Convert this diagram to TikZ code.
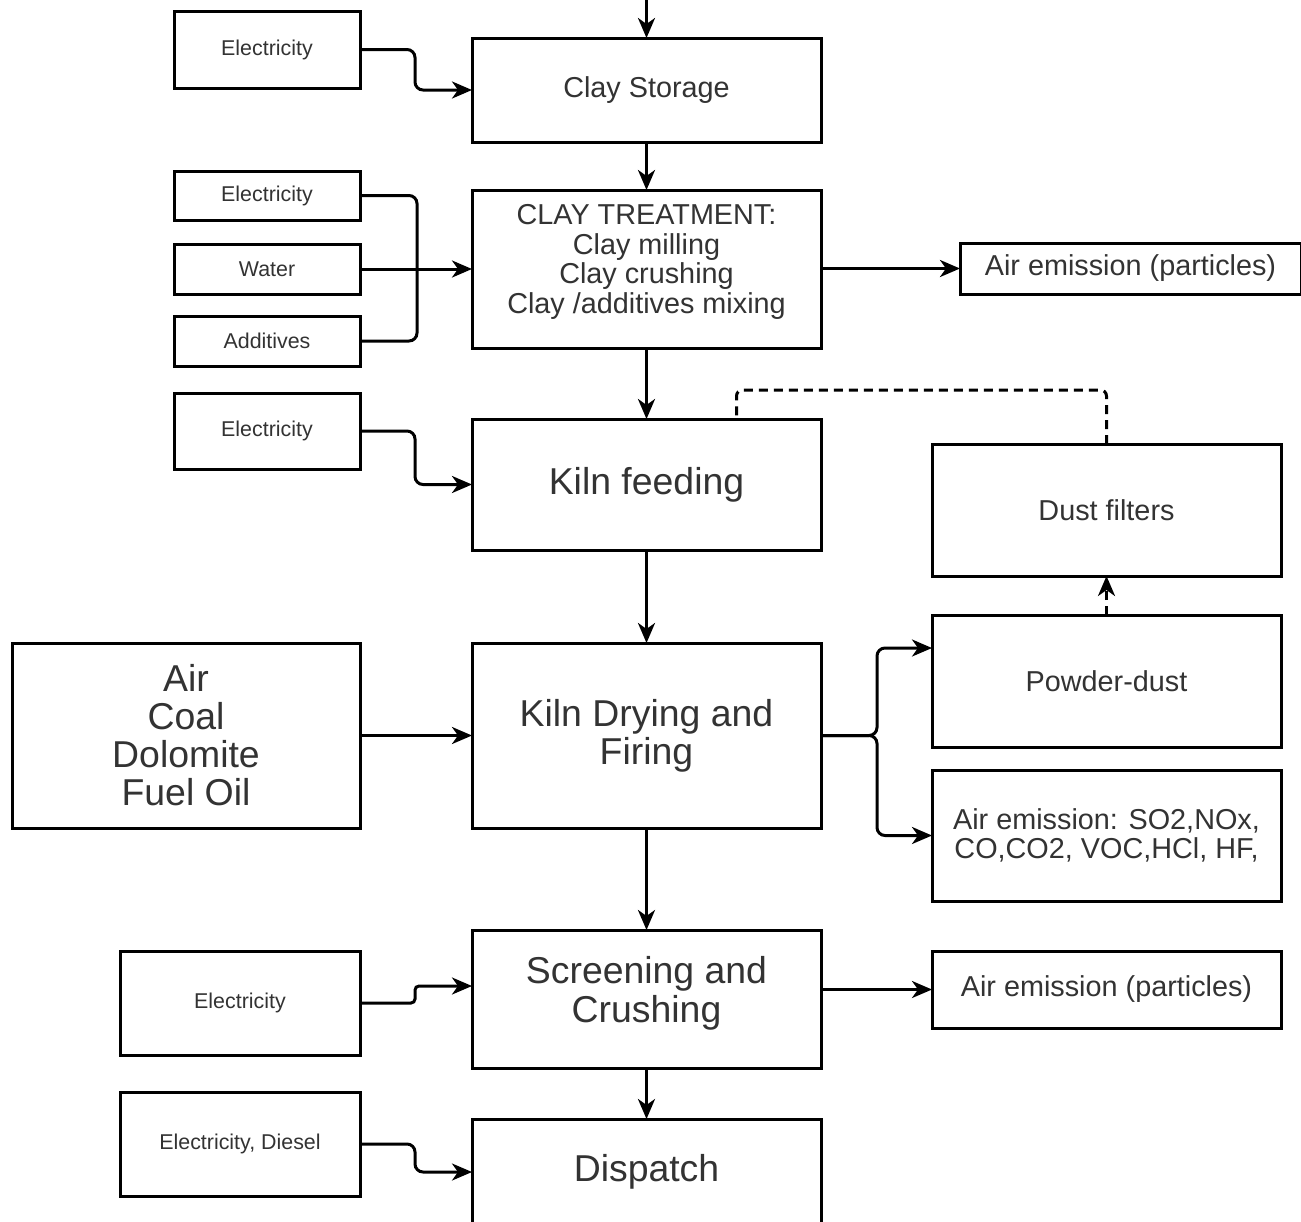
\documentclass[tikz,border=0pt]{standalone}
\usepackage{fontspec}
\setmainfont{Liberation Sans}
\usetikzlibrary{arrows.meta, positioning}
\definecolor{inktext}{HTML}{333333}
% lifts a block of lines without changing the box size
\newcommand{\liftlines}[2]{\raisebox{#1}[\height][\depth]{\begin{tabular}{@{}c@{}}#2\end{tabular}}}

\begin{document}
\begin{tikzpicture}[
        x=0.5pt, y=-0.5pt,
        % This defines the style of the boxes
        box/.style={rectangle, draw=black, line width=1.5pt, fill=white, text=inktext, align=center, inner sep=2pt, outer sep=0pt},
        mainbox/.style={box, minimum width=174.5pt},
        bigtxt/.style={font=\fontsize{18.7}{19}\selectfont},
        midtxt/.style={font=\fontsize{14.4}{14.6}\selectfont},
        smalltxt/.style={font=\fontsize{10.7}{12}\selectfont},
        % This defines the style of the connectors
        arrow/.style={-{Stealth[length=10pt, width=8.5pt, inset=3pt]}, line width=1.5pt, rounded corners=4pt},
        plain/.style={line width=1.5pt, rounded corners=4pt},
        dashline/.style={line width=1.5pt, dash pattern=on 4.5pt off 3pt, rounded corners=3pt}
    ]
    \useasboundingbox (0,0) rectangle (1301,1221);

    % --- THE MAIN LINE ---
    \node (storage) [mainbox, midtxt, minimum height=52pt] at (646.5,90) {Clay Storage};
    \node (treat) [mainbox, midtxt, minimum height=79pt] at (646.5,269) {\liftlines{3pt}{CLAY TREATMENT:\\Clay milling\\Clay crushing\\Clay /additives mixing}};
    \node (feed) [mainbox, bigtxt, minimum height=65.5pt] at (646.5,484.5) {Kiln feeding};
    \node (kiln) [mainbox, bigtxt, minimum height=92.5pt] at (646.5,735.5) {Kiln Drying and\\Firing};
    \node (screen) [mainbox, bigtxt, minimum height=69pt] at (646.5,999) {\liftlines{2pt}{Screening and\\Crushing}};
    \node (dispatch) [mainbox, bigtxt, minimum height=53pt] at (646.5,1172) {Dispatch};

    % --- THE INPUTS ---
    \node (elec1) [box, smalltxt, minimum width=93pt, minimum height=38.5pt] at (267,49.5) {Electricity};
    \node (elec2) [box, smalltxt, minimum width=93pt, minimum height=24.5pt] at (267,195.5) {Electricity};
    \node (water) [box, smalltxt, minimum width=93pt, minimum height=25pt] at (267,269) {Water};
    \node (additives) [box, smalltxt, minimum width=93pt, minimum height=25pt] at (267,341) {Additives};
    \node (elec3) [box, smalltxt, minimum width=93pt, minimum height=38pt] at (267,431) {Electricity};
    \node (fuel) [box, bigtxt, minimum width=174pt, minimum height=92.5pt] at (186,735.5) {Air\\Coal\\Dolomite\\Fuel Oil};
    \node (elec4) [box, smalltxt, minimum width=120pt, minimum height=52pt] at (240,1003) {Electricity};
    \node (elec5) [box, smalltxt, minimum width=120pt, minimum height=52pt] at (240,1144) {Electricity, Diesel};

    % --- THE OUTPUTS ---
    \node (air1) [box, midtxt, minimum width=170.5pt, minimum height=25.5pt] at (1130.5,268.5) {Air emission (particles)};
    \node (dust) [box, midtxt, minimum width=174.5pt, minimum height=66pt] at (1106.5,510) {Dust filters};
    \node (powder) [box, midtxt, minimum width=174.5pt, minimum height=66pt] at (1106.5,681) {Powder-dust};
    \node (emis) [box, midtxt, minimum width=174.5pt, minimum height=65.5pt] at (1106.5,835.5) {Air emission: SO2,NOx,\\CO,CO2, VOC,HCl, HF,};
    \node (air2) [box, midtxt, minimum width=174.5pt, minimum height=38.5pt] at (1106.5,989.5) {Air emission (particles)};

    \coordinate (source) at (646.5,-4);
    \coordinate (join) at (417,269);

    % --- THE DOWNWARD ARROWS ---
    \draw [arrow] (source) -- (storage.north);
    \draw [arrow] (storage) -- (treat);
    \draw [arrow] (treat) -- (feed);
    \draw [arrow] (feed) -- (kiln);
    \draw [arrow] (kiln) -- (screen);
    \draw [arrow] (screen) -- (dispatch);

    % --- THE SIDE ARROWS ---
    \draw [arrow] (elec1.east) -- ++(55,0) |- (storage.west);
    \draw [plain] (elec2.east) -| (join);
    \draw [plain] (additives.east) -| (join);
    \draw [arrow] (water) -- (treat);
    \draw [arrow] (treat.east |- air1) -- (air1.west);
    \draw [arrow] (elec3.east) -- ++(55,0) |- (feed.west);
    \draw [dashline] (dust.north) -- ++(0,-54) -| ([xshift=45pt]feed.north);
    \draw [arrow, dash pattern=on 4.5pt off 3pt] (powder) -- (dust);
    \draw [arrow] (fuel) -- (kiln);
    \draw [arrow] (kiln.east) -- ++(56,0) |- ([yshift=16.5pt]powder.west);
    \draw [arrow] (kiln.east) -- ++(56,0) |- (emis.west);
    \draw [arrow, rounded corners=2pt] (elec4.east) -- ++(55,0) |- ([yshift=6.5pt]screen.west);
    \draw [arrow] (screen.east |- air2) -- (air2.west);
    \draw [arrow] (elec5.east) -- ++(55,0) |- (dispatch.west);

\end{tikzpicture}
\end{document}
